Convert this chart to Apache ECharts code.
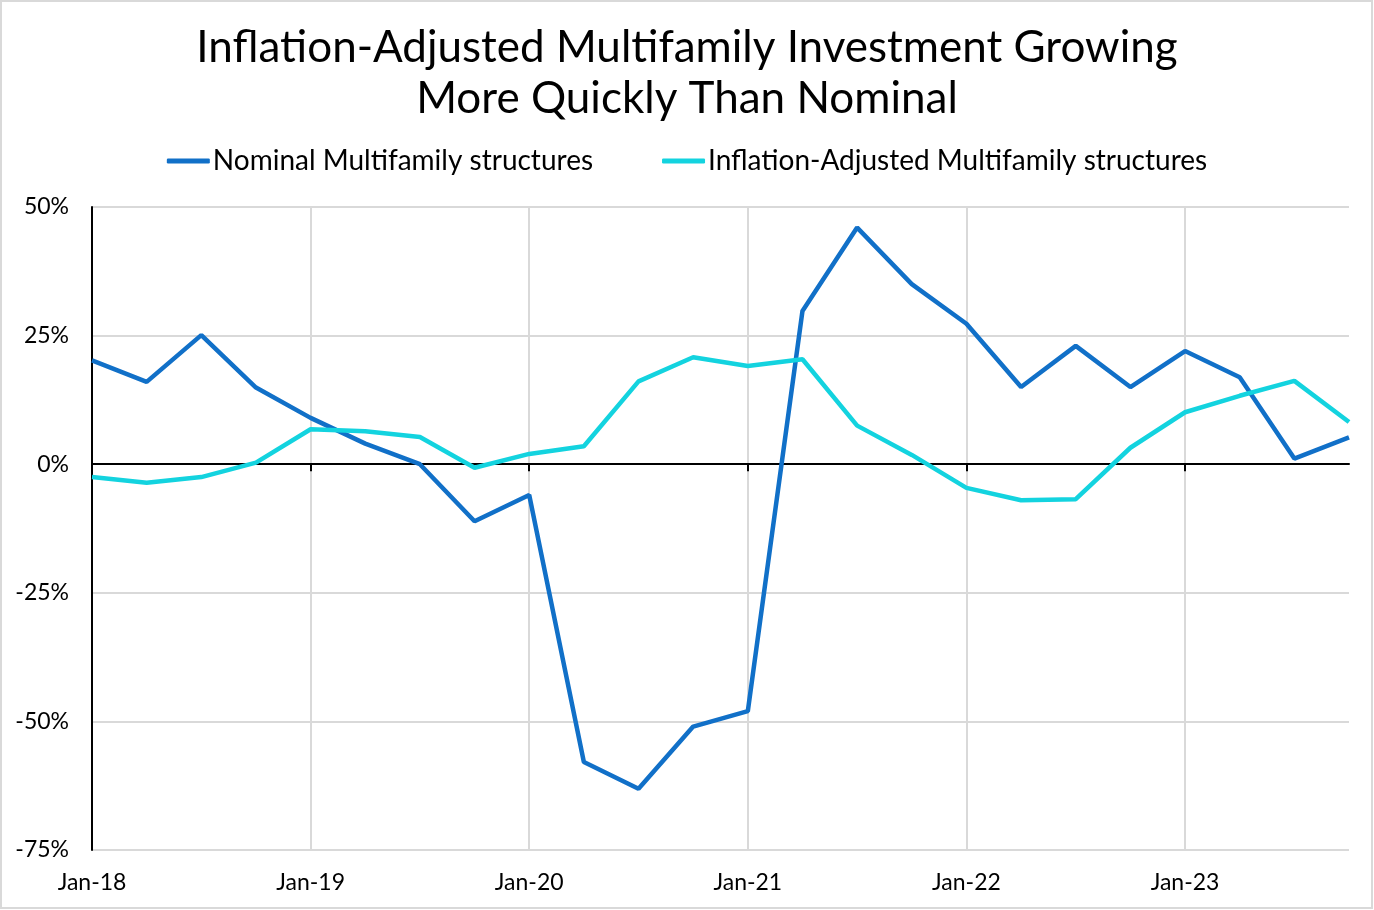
<!DOCTYPE html>
<html>
<head>
<meta charset="utf-8">
<script src="https://cdn.jsdelivr.net/npm/echarts@6/dist/echarts.min.js"></script>
<style>
html,body{margin:0;padding:0;background:#fff;}
#c{width:1374px;height:910px;}
</style>
</head>
<body>
<div id="c"></div>
<script>
const categories = [
  "Jan-18","Apr-18","Jul-18","Oct-18",
  "Jan-19","Apr-19","Jul-19","Oct-19",
  "Jan-20","Apr-20","Jul-20","Oct-20",
  "Jan-21","Apr-21","Jul-21","Oct-21",
  "Jan-22","Apr-22","Jul-22","Oct-22",
  "Jan-23","Apr-23","Jul-23","Oct-23"
];
const nominal = [
  20.2, 16.0, 25.1, 14.9,
  9.0, 4.0, 0.0, -11.1,
  -6.0, -57.9, -63.1, -51.0,
  -48.0, 29.8, 46.0, 35.0,
  27.3, 15.0, 23.0, 15.0,
  22.0, 16.9, 1.1, 5.2
];
const inflationAdjusted = [
  -2.5, -3.6, -2.5, 0.3,
  6.8, 6.4, 5.3, -0.7,
  2.0, 3.5, 16.1, 20.8,
  19.1, 20.4, 7.5, 1.8,
  -4.6, -7.0, -6.8, 3.2,
  10.1, 13.3, 16.2, 8.2
];
const yTicks = { min: -75, max: 50, interval: 25 };

const FONT = 'Lato, "Noto Sans", sans-serif';
const chart = echarts.init(document.getElementById('c'), null, { renderer: 'canvas' });
chart.setOption({
  backgroundColor: '#ffffff',
  animation: false,
  title: {
    text: 'Inflation-Adjusted Multifamily Investment Growing\nMore Quickly Than Nominal',
    left: 'center',
    top: 17,
    textStyle: { fontFamily: FONT, fontSize: 44, fontWeight: 'normal', color: '#000', lineHeight: 51, align: 'center' }
  },
  legend: {
    top: 142,
    left: 'center',
    itemWidth: 43,
    itemHeight: 5,
    itemGap: 69,
    icon: 'roundRect',
    textStyle: { fontFamily: FONT, fontSize: 28, color: '#000', padding: [0, 0, 0, -2] },
    data: ['Nominal Multifamily structures', 'Inflation-Adjusted Multifamily structures']
  },
  graphic: [{
    type: 'rect',
    shape: { x: 1, y: 1, width: 1371, height: 907 },
    style: { fill: 'none', stroke: '#d9d9d9', lineWidth: 2 },
    silent: true
  }],
  grid: { left: 92, right: 25, top: 207, bottom: 60, containLabel: false },
  xAxis: [{
    type: 'category',
    data: categories,
    boundaryGap: false,
    axisLine: { show: true, onZero: true, lineStyle: { color: '#000', width: 2 } },
    axisTick: { show: true, interval: 3, length: 7, lineStyle: { color: '#000', width: 2 } },
    axisLabel: { show: false },
    splitLine: { show: true, interval: 3, lineStyle: { color: '#d9d9d9', width: 2 } }
  }, {
    type: 'category',
    data: categories,
    boundaryGap: false,
    position: 'bottom',
    axisLine: { show: false, onZero: false },
    axisTick: { show: false },
    splitLine: { show: false },
    axisLabel: { show: true, interval: 3, margin: 21, fontFamily: FONT, fontSize: 23, color: '#000' }
  }],
  yAxis: {
    type: 'value',
    min: yTicks.min,
    max: yTicks.max,
    interval: yTicks.interval,
    axisLine: { show: true, lineStyle: { color: '#000', width: 2 } },
    axisTick: { show: false },
    axisLabel: { margin: 23, fontFamily: FONT, fontSize: 23, color: '#000', formatter: v => v + '%' },
    splitLine: { show: true, lineStyle: { color: '#d9d9d9', width: 2 } }
  },
  series: [{
    name: 'Nominal Multifamily structures',
    type: 'line',
    data: nominal,
    xAxisIndex: 0,
    showSymbol: false,
    symbol: 'none',
    lineStyle: { color: '#1170C8', width: 4.5 },
    itemStyle: { color: '#1170C8' }
  }, {
    name: 'Inflation-Adjusted Multifamily structures',
    type: 'line',
    data: inflationAdjusted,
    xAxisIndex: 0,
    showSymbol: false,
    symbol: 'none',
    lineStyle: { color: '#13D3DF', width: 4.5 },
    itemStyle: { color: '#13D3DF' }
  }]
});
</script>
</body>
</html>
